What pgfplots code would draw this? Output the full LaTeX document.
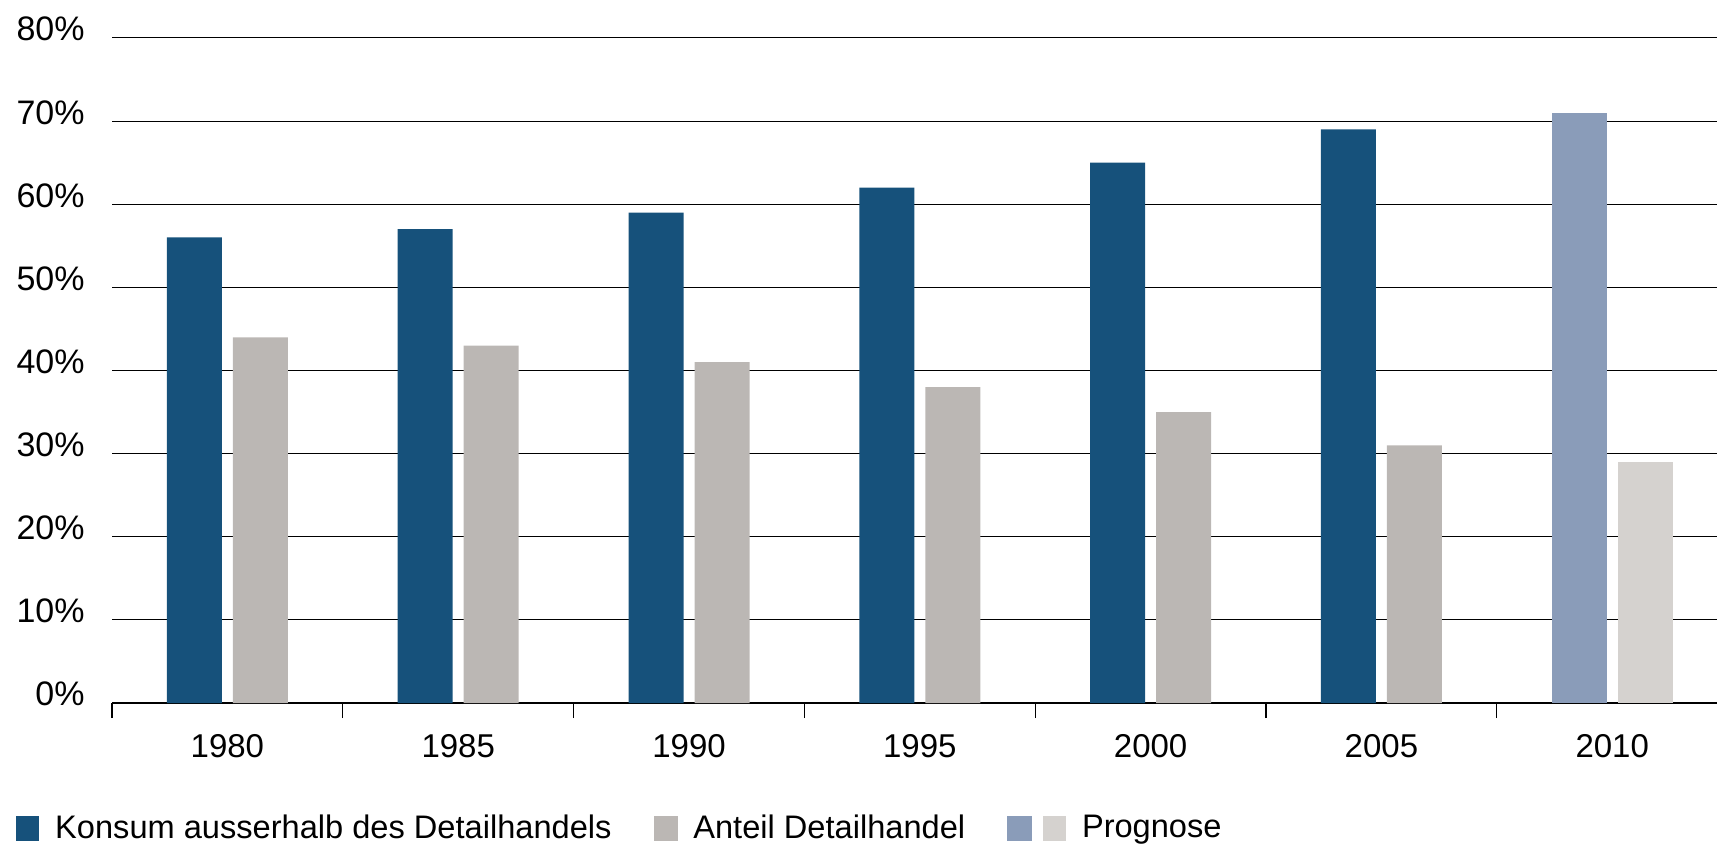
\documentclass[border=0pt]{standalone}
\usepackage{fontspec}
\setmainfont{Liberation Sans}
\usepackage{pgfplots}
\pgfplotsset{compat=1.18}

\definecolor{konsum}{HTML}{16517B}
\definecolor{anteil}{HTML}{BBB7B4}
\definecolor{progblue}{HTML}{8A9CB9}
\definecolor{proggray}{HTML}{D5D2CF}

\begin{document}
\begin{tikzpicture}
\useasboundingbox (0pt,0pt) rectangle (858.5pt,423pt);
\begin{axis}[
    at={(56pt,71.5pt)}, anchor=south west,
    scale only axis,
    width=802.5pt, height=332.5pt,
    xmin=-0.5, xmax=6.454,
    ymin=0, ymax=80,
    ytick={0,10,...,80},
    yticklabel={\pgfmathprintnumber{\tick}\%},
    xtick={0,...,6},
    xticklabels={1980,1985,1990,1995,2000,2005,2010},
    minor xtick={-0.5,0.5,...,5.5},
    major tick length=0pt,
    minor tick length=7.5pt,
    tick align=outside,
    xtick pos=bottom, ytick pos=left,
    minor tick style={black, line width=0.6pt},
    axis x line*=bottom,
    axis y line*=left,
    x axis line style={-, black, line width=0.6pt},
    y axis line style={draw=none},
    ymajorgrids,
    major grid style={black, line width=0.5pt},
    /pgf/number format/assume math mode=true,
    yticklabel style={font=\fontsize{17}{20}\selectfont, anchor=base east, inner sep=0pt, xshift=-13.5pt, yshift=-1.5pt},
    xticklabel style={font=\fontsize{16.5}{20}\selectfont, anchor=north, inner sep=0pt, yshift=-15.5pt},
    legend style={at={(axis description cs:-0.0598,-0.188)}, anchor=west,
        draw=none, fill=none, inner sep=0pt,
        font=\fontsize{16.3}{20}\selectfont,
        nodes={inner sep=0pt},
        /tikz/every odd column/.append style={column sep=8pt},
        /tikz/every even column/.append style={column sep=21pt}},
    legend columns=-1,
]

% Konsum ausserhalb des Detailhandels
\addplot[ybar, bar width=0.2383, bar shift=-0.143, fill=konsum, draw=none, forget plot]
    coordinates {(0,56) (1,57) (2,59) (3,62) (4,65) (5,69)};
% Anteil Detailhandel
\addplot[ybar, bar width=0.2383, bar shift=0.143, fill=anteil, draw=none, forget plot]
    coordinates {(0,44) (1,43) (2,41) (3,38) (4,35) (5,31)};
% Prognose 2010
\addplot[ybar, bar width=0.2383, bar shift=-0.143, fill=progblue, draw=none, forget plot]
    coordinates {(6,71)};
\addplot[ybar, bar width=0.2383, bar shift=0.143, fill=proggray, draw=none, forget plot]
    coordinates {(6,29)};

\addlegendimage{legend image code/.code={\fill[konsum] (0pt,-6pt) rectangle (11pt,6pt);}}
\addlegendentry{Konsum ausserhalb des Detailhandels}
\addlegendimage{legend image code/.code={\fill[anteil] (0pt,-6pt) rectangle (11.5pt,6pt);}}
\addlegendentry{Anteil Detailhandel}
\addlegendimage{legend image code/.code={\fill[progblue] (0pt,-6pt) rectangle (12pt,6pt);
    \fill[proggray] (18pt,-6pt) rectangle (29pt,6pt);}}
\addlegendentry{Prognose}

\end{axis}
\end{tikzpicture}
\end{document}
